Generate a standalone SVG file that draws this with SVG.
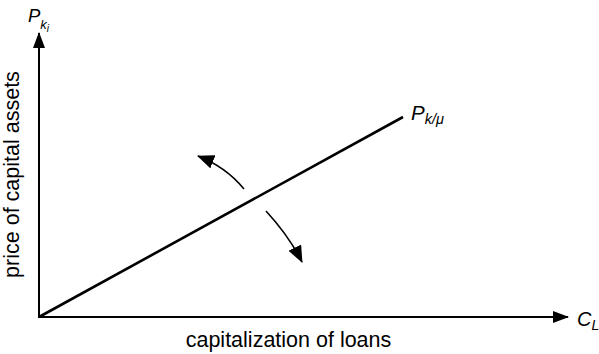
<svg xmlns="http://www.w3.org/2000/svg" width="599" height="354" viewBox="0 0 599 354">
<style>
text{font-family:"Liberation Sans",Arial,sans-serif;fill:#000}
.lbl{font-size:21.5px}
.it{font-style:italic}
.ax{stroke:#000;stroke-width:2;fill:none}
.ln{stroke:#000;stroke-width:2.6;fill:none}
.cv{stroke:#000;stroke-width:1.6;fill:none}
</style>
<defs>
<marker id="ah" markerWidth="16" markerHeight="12" refX="15" refY="6" orient="auto" markerUnits="userSpaceOnUse">
<path d="M0,0 L16,6 L0,12 Z" fill="#000"/>
</marker>
<marker id="ah2" markerWidth="17" markerHeight="14" refX="16" refY="7" orient="auto" markerUnits="userSpaceOnUse">
<path d="M0,0 L17,7 L0,14 Z" fill="#000"/>
</marker>
</defs>
<g id="connectors">
<line class="ax" x1="39" y1="318" x2="39" y2="33" marker-end="url(#ah)"/>
<line class="ax" x1="38" y1="317" x2="568" y2="317" marker-end="url(#ah)"/>
<line class="ln" x1="39" y1="317" x2="403" y2="117"/>
<path class="cv" d="M244,189 Q226,167 198,156" marker-end="url(#ah2)"/>
<path class="cv" d="M266,211 Q289,236 302,262" marker-end="url(#ah2)"/>
</g>
<g id="y-label">
<text class="it" x="28" y="22" font-size="18.5">P<tspan font-size="13" dy="7">k</tspan><tspan font-size="10" dy="3">i</tspan></text>
<text class="lbl" transform="translate(19,174.5) rotate(-90)" text-anchor="middle">price of capital assets</text>
</g>
<g id="x-label">
<text class="it" x="577" y="326" font-size="20">C<tspan font-size="14" dy="4">L</tspan></text>
<text class="lbl" x="288.5" y="347" text-anchor="middle">capitalization of loans</text>
</g>
<g id="line-label">
<text class="it" x="411" y="120" font-size="20.5">P<tspan font-size="14.5" dy="4">k/μ</tspan></text>
</g>
</svg>
